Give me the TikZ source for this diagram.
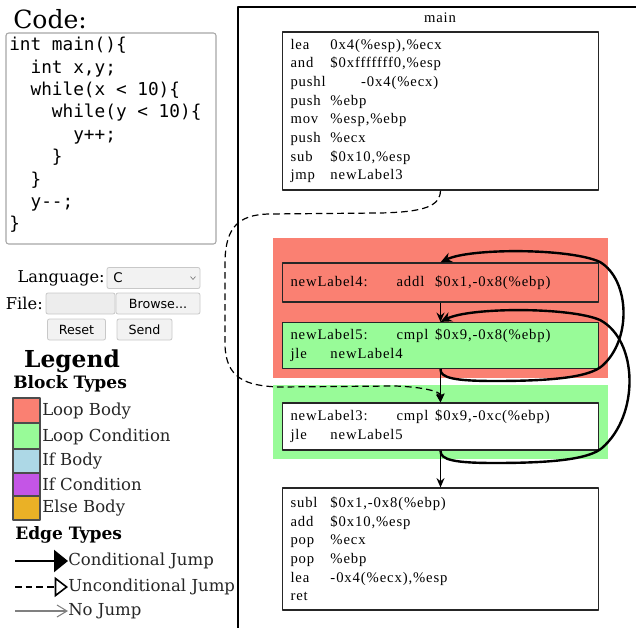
\documentclass[tikz,border=0pt]{standalone}
\usepackage{fontspec}
\setmainfont{DejaVu Serif}
\setsansfont{DejaVu Sans}
\setmonofont{DejaVu Sans Mono}
\newfontfamily\asmfont[Ligatures=CommonOff, LetterSpace=6]{Liberation Serif}
\usetikzlibrary{arrows.meta}

\definecolor{loopbody}{HTML}{FA8072}
\definecolor{loopcond}{HTML}{98FB98}
\definecolor{ifbody}{HTML}{ADD8E6}
\definecolor{ifcond}{HTML}{C455E6}
\definecolor{elsebody}{HTML}{EAB126}
\definecolor{btnedge}{HTML}{C8C8C8}
\definecolor{btnfill}{HTML}{F2F2F2}

% mnemonic column of the assembly listing
\newcommand{\mn}[2][30pt]{\makebox[#1][l]{#2}}

\tikzset{
  block/.style={draw=black!85, line width=0.9pt, fill=white, align=left,
    text width=225pt, inner xsep=6pt, inner ysep=0pt,
    font=\asmfont\fontsize{11}{14}\selectfont},
  button/.style={draw=btnedge, fill=btnfill, rounded corners=1.5pt,
    line width=0.6pt, inner sep=0pt, font=\sffamily\fontsize{9.5}{11}\selectfont},
  swatch/.style={draw=black!70, line width=0.8pt},
  legtext/.style={anchor=west, inner sep=0pt, text=black!85,
    font=\fontsize{12.4}{14}\selectfont},
  legtitle/.style={anchor=west, inner sep=0pt,
    font=\bfseries\fontsize{12.8}{15}\selectfont},
  jump/.style={line width=1.8pt, -{Stealth[length=8.5pt,width=7.5pt]}},
  fall/.style={line width=0.9pt, -{Stealth[length=7pt,width=6pt]}},
  goto/.style={line width=0.9pt, dash pattern=on 5pt off 3pt,
    -{Triangle[open,length=6pt,width=6pt]}},
}

\begin{document}
\begin{tikzpicture}[x=0.75pt, y=-0.75pt, line join=round, >=stealth]
\useasboundingbox (0,0) rectangle (636,628);

% left panel: source code
\node[anchor=west, inner sep=0pt, font=\fontsize{18.8}{20}\selectfont] (codetitle) at (13,19) {Code:};
\draw[black!35, line width=0.8pt, rounded corners=2pt] (6,33) rectangle (216,244);
\node[anchor=north west, inner sep=0pt, align=left,
  font=\ttfamily\fontsize{13.3}{16.8}\selectfont] (src) at (9,37)
  {int main()\{\\
   \phantom{xx}int x,y;\\
   \phantom{xx}while(x < 10)\{\\
   \phantom{xxxx}while(y < 10)\{\\
   \phantom{xxxxxx}y++;\\
   \phantom{xxxx}\}\\
   \phantom{xx}\}\\
   \phantom{xx}y--;\\
   \}};

% form controls
\node[anchor=east, inner sep=0pt, font=\fontsize{12.2}{14}\selectfont] (langlbl) at (105,278) {Language:};
\node[button, minimum width=69.75pt, minimum height=15.75pt] (lang) at (153.5,278) {};
\node[anchor=west, inner sep=0pt, font=\sffamily\fontsize{10}{12}\selectfont] (langval) at (113,278) {C};
\draw[black!50, line width=0.5pt] (190.5,276.5) -- (193,279.5) -- (195.5,276.5);
\node[anchor=east, inner sep=0pt, font=\fontsize{12.2}{14}\selectfont] (filelbl) at (43,303) {File:};
\node[draw=btnedge, fill=black!7, line width=0.6pt, rounded corners=1.5pt,
  minimum width=51.75pt, minimum height=15.75pt] (filebox) at (80.5,303.5) {};
\node[button, minimum width=63pt, minimum height=15.75pt] (browse) at (158,303.5) {Browse...};
\node[button, minimum width=43.5pt, minimum height=15.75pt] (reset) at (76.5,329.5) {Reset};
\node[button, minimum width=41.25pt, minimum height=15.75pt] (send) at (144.5,329.5) {Send};

% legend
\node[inner sep=0pt, font=\bfseries\fontsize{17.5}{20}\selectfont] (legend) at (72,361.5) {Legend};
\node[legtitle] (btypes) at (13,384) {Block Types};
\draw[swatch, fill=loopbody] (13,398) rectangle (40,423);
\draw[swatch, fill=loopcond] (13,423) rectangle (40,449);
\draw[swatch, fill=ifbody] (13,449) rectangle (40,473);
\draw[swatch, fill=ifcond] (13,473) rectangle (40,496);
\draw[swatch, fill=elsebody] (13,496) rectangle (40,520);
\node[legtext] (lbody) at (42,411) {Loop Body};
\node[legtext] (lcond) at (42,437) {Loop Condition};
\node[legtext] (ibody) at (42,461) {If Body};
\node[legtext] (icond) at (42,484) {If Condition};
\node[legtext] (ebody) at (42,508) {Else Body};
\node[legtitle] (etypes) at (15,535) {Edge Types};
\node[legtext] (ecj) at (68,561) {Conditional Jump};
\node[legtext] (euj) at (68,587) {Unconditional Jump};
\node[legtext] (enj) at (68,611) {No Jump};
\coordinate (cj) at (15,561);
\coordinate (uj) at (15,587);
\coordinate (nj) at (15,611);
\draw[line width=1.9pt, -{Triangle[length=10.5pt,width=16.5pt]}] (cj) -- (ecj.west);
\draw[line width=1.5pt, dash pattern=on 5pt off 3pt,
  -{Triangle[open,length=10pt,width=15pt,line width=1.2pt]}] (uj) -- (euj.west);
\draw[black!50, line width=0.8pt, -{Straight Barb[length=7.5pt,width=9pt]}] (nj) -- (enj.west);

% control flow graph
\draw[line width=1.1pt] (636,7) -- (238,7) -- (238,628);
\node[font=\asmfont\fontsize{11}{12}\selectfont, inner sep=0pt] (fname) at (440,18) {main};

\fill[loopbody] (273,238) rectangle (608,378);
\fill[loopcond] (273,385) rectangle (608,459);

\node[block, minimum height=118.5pt] (entry) at (440.5,111)
  {\mn{lea}0x4(\%esp),\%ecx\\
   \mn{and}\$0xfffffff0,\%esp\\
   \mn[53pt]{pushl}-0x4(\%ecx)\\
   \mn{push}\%ebp\\
   \mn{mov}\%esp,\%ebp\\
   \mn{push}\%ecx\\
   \mn{sub}\$0x10,\%esp\\
   \mn{jmp}newLabel3};
\node[block, fill=loopbody, minimum height=29.25pt] (lbl4) at (440.5,282.5)
  {\mn[79.5pt]{newLabel4:}\mn[29pt]{addl}\$0x1,-0x8(\%ebp)};
\node[block, fill=loopcond, minimum height=34.5pt] (lbl5) at (440.5,345.5)
  {\mn[79.5pt]{newLabel5:}\mn[29pt]{cmpl}\$0x9,-0x8(\%ebp)\\
   \mn{jle}newLabel4};
\node[block, minimum height=35.25pt] (lbl3) at (440.5,426.5)
  {\mn[79.5pt]{newLabel3:}\mn[29pt]{cmpl}\$0x9,-0xc(\%ebp)\\
   \mn{jle}newLabel5};
\node[block, minimum height=91.5pt] (exit) at (440.5,549)
  {\mn{subl}\$0x1,-0x8(\%ebp)\\
   \mn{add}\$0x10,\%esp\\
   \mn{pop}\%ecx\\
   \mn{pop}\%ebp\\
   \mn{lea}-0x4(\%ecx),\%esp\\
   \mn{ret}};

\draw[goto] (entry.south) .. controls (440,206) and (425,212) .. (380,213)
  -- (268,214) .. controls (238,215) and (226,228) .. (225,260)
  -- (225,345) .. controls (226,378) and (245,386) .. (280,387)
  -- (395,386) .. controls (425,387) and (440,392) .. (lbl3.north);
\draw[fall] (lbl4.south) -- (lbl5.north);
\draw[fall] (lbl5.south) -- (lbl3.north);
\draw[fall] (lbl3.south) -- (exit.north);
\draw[jump] (lbl5.south) .. controls (440,378) and (455,381) .. (495,381)
  .. controls (560,381) and (590,376) .. (602,366)
  .. controls (632,340) and (630,280) .. (600,262)
  .. controls (570,248) and (470,248) .. (lbl4.north);
\draw[jump] (lbl3.south) .. controls (440,460) and (455,463) .. (495,463)
  .. controls (560,463) and (590,458) .. (602,448)
  .. controls (640,415) and (638,340) .. (600,320)
  .. controls (570,307) and (470,307) .. (lbl5.north);
\end{tikzpicture}
\end{document}
